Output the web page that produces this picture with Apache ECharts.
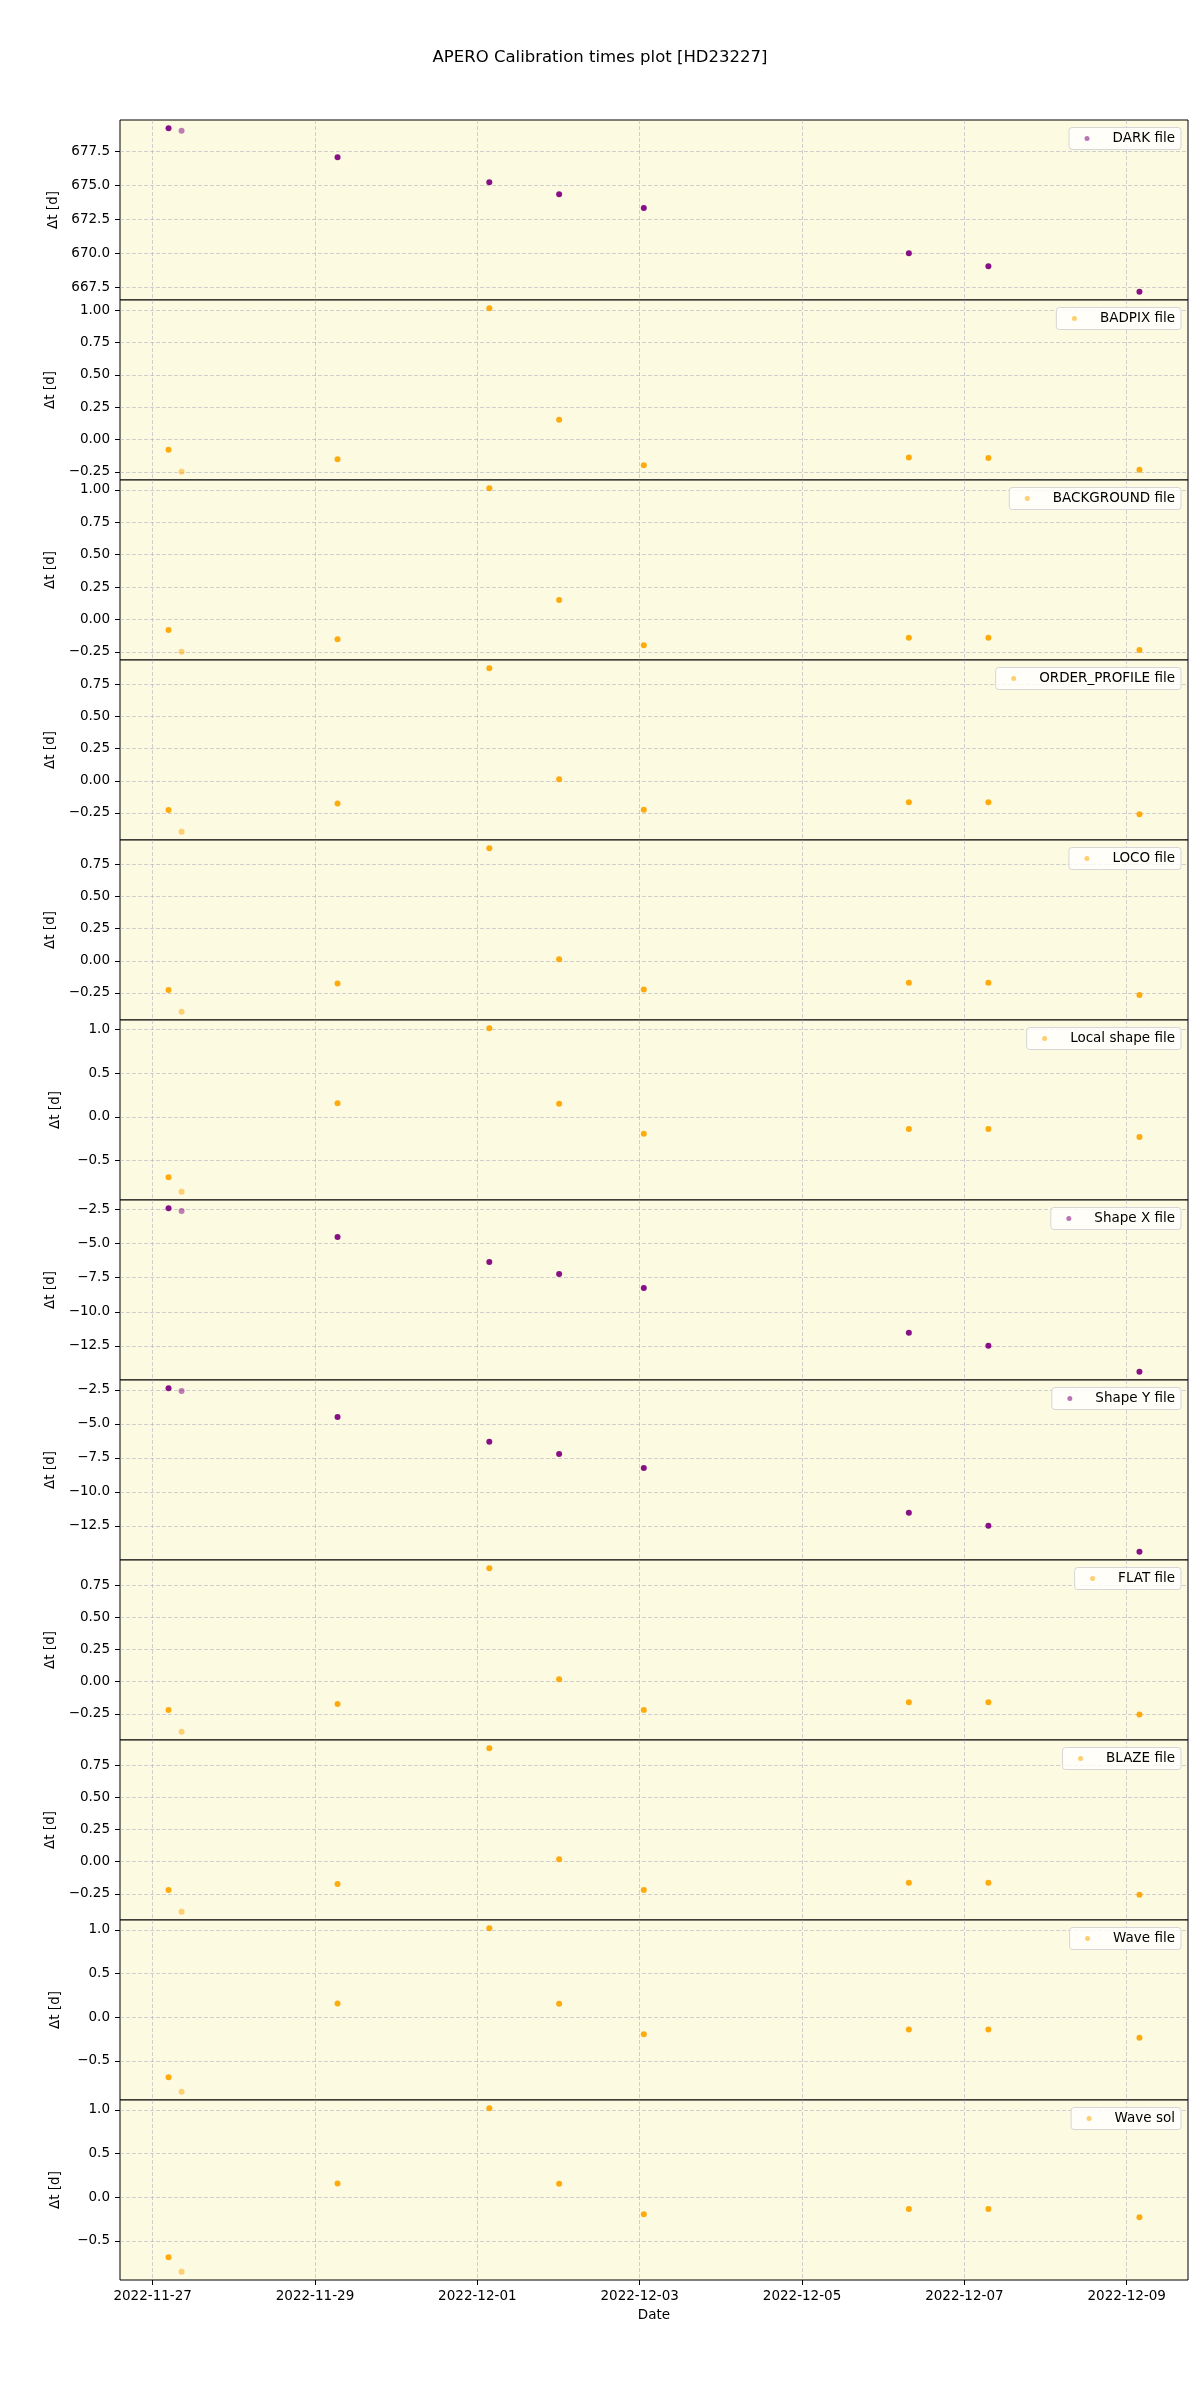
<!DOCTYPE html>
<html>
<head>
<meta charset="utf-8">
<title>APERO Calibration times plot [HD23227]</title>
<script src="https://cdn.jsdelivr.net/npm/echarts@6/dist/echarts.min.js"></script>
<style>
  html, body { margin: 0; padding: 0; background: #fff; }
  #chart { width: 1200px; height: 2400px; }
</style>
</head>
<body>
<div id="chart"></div>
<script>
const obsTimes = [
  '2022-11-27T04:42Z', '2022-11-27T08:33Z', '2022-11-29T06:40Z',
  '2022-12-01T03:32Z', '2022-12-02T00:11Z', '2022-12-03T01:13Z',
  '2022-12-06T07:35Z', '2022-12-07T07:06Z', '2022-12-09T03:46Z'
]
// overlapping observations per point (single ones show lighter)
const nObs = [4, 1, 4, 4, 4, 4, 4, 4, 4]

const dateTicks = ['2022-11-27', '2022-11-29', '2022-12-01', '2022-12-03', '2022-12-05', '2022-12-07', '2022-12-09']

// delta t [d] per calibration file
const darkFile = [679.19, 679.00, 677.06, 675.22, 674.34, 673.32, 670.00, 669.04, 667.16]
const badpixFile = [-0.080, -0.250, -0.153, 1.016, 0.152, -0.200, -0.140, -0.143, -0.234]
const backgroundFile = [-0.081, -0.250, -0.153, 1.014, 0.151, -0.200, -0.141, -0.142, -0.236]
const orderProfileFile = [-0.228, -0.398, -0.178, 0.878, 0.011, -0.226, -0.167, -0.167, -0.261]
const locoFile = [-0.228, -0.398, -0.178, 0.878, 0.011, -0.223, -0.171, -0.171, -0.267]
const localShapeFile = [-0.691, -0.858, 0.156, 1.017, 0.151, -0.192, -0.139, -0.139, -0.231]
const shapeXFile = [-2.40, -2.60, -4.51, -6.34, -7.23, -8.26, -11.53, -12.49, -14.40]
const shapeYFile = [-2.37, -2.58, -4.49, -6.32, -7.21, -8.24, -11.54, -12.49, -14.41]
const flatFile = [-0.220, -0.390, -0.173, 0.884, 0.020, -0.220, -0.159, -0.159, -0.255]
const blazeFile = [-0.220, -0.390, -0.173, 0.884, 0.020, -0.220, -0.163, -0.163, -0.258]
const waveFile = [-0.688, -0.855, 0.156, 1.018, 0.152, -0.195, -0.142, -0.142, -0.235]
const waveSol = [-0.688, -0.855, 0.156, 1.018, 0.152, -0.195, -0.137, -0.137, -0.229]

// y tick labels
const darkTicks = [667.5, 670.0, 672.5, 675.0, 677.5]
const quarterTicks6 = [-0.25, 0.00, 0.25, 0.50, 0.75, 1.00]
const quarterTicks5 = [-0.25, 0.00, 0.25, 0.50, 0.75]
const halfTicks = [-0.5, 0.0, 0.5, 1.0]
const shapeTicks = [-12.5, -10.0, -7.5, -5.0, -2.5]

const FONT = 'DejaVu Sans'
const PURPLE = '#800080'
const ORANGE = '#ffa500'
const BG = '#fcfae1'
const GRID_COLOR = 'rgba(170,172,190,0.55)'

const panels = [
  { name: 'DARK file', values: darkFile, ticks: darkTicks, dec: 1, color: PURPLE },
  { name: 'BADPIX file', values: badpixFile, ticks: quarterTicks6, dec: 2, color: ORANGE },
  { name: 'BACKGROUND file', values: backgroundFile, ticks: quarterTicks6, dec: 2, color: ORANGE },
  { name: 'ORDER_PROFILE file', values: orderProfileFile, ticks: quarterTicks5, dec: 2, color: ORANGE },
  { name: 'LOCO file', values: locoFile, ticks: quarterTicks5, dec: 2, color: ORANGE },
  { name: 'Local shape file', values: localShapeFile, ticks: halfTicks, dec: 1, color: ORANGE },
  { name: 'Shape X file', values: shapeXFile, ticks: shapeTicks, dec: 1, color: PURPLE },
  { name: 'Shape Y file', values: shapeYFile, ticks: shapeTicks, dec: 1, color: PURPLE },
  { name: 'FLAT file', values: flatFile, ticks: quarterTicks5, dec: 2, color: ORANGE },
  { name: 'BLAZE file', values: blazeFile, ticks: quarterTicks5, dec: 2, color: ORANGE },
  { name: 'Wave file', values: waveFile, ticks: halfTicks, dec: 1, color: ORANGE },
  { name: 'Wave sol', values: waveSol, ticks: halfTicks, dec: 1, color: ORANGE }
]

const TOP = 120
const PANEL_H = 180

const tMs = obsTimes.map(s => Date.parse(s))
const tMin = Math.min(...tMs)
const tMax = Math.max(...tMs)
const xPad = (tMax - tMin) * 0.05
const tickMs = dateTicks.map(s => Date.parse(s + 'T00:00:00Z'))

function fmtNum(v, dec) {
  const s = Math.abs(v).toFixed(dec)
  return (v < -1e-9 ? '\u2212' : '') + s
}

const labelStyle = { color: '#000', fontFamily: FONT, fontSize: 13.5 }
const splitLine = { show: true, lineStyle: { color: GRID_COLOR, type: [4, 2], width: 1 } }

const option = {
  animation: false,
  textStyle: { fontFamily: FONT },
  title: {
    text: 'APERO Calibration times plot [HD23227]',
    left: 'center',
    top: 44,
    textStyle: { fontFamily: FONT, fontSize: 16.5, fontWeight: 'normal', color: '#000' }
  },
  grid: panels.map((p, i) => ({
    left: 120,
    right: 12,
    top: TOP + i * PANEL_H,
    height: PANEL_H,
    show: true,
    backgroundColor: BG,
    borderColor: '#000',
    borderWidth: 1
  })),
  xAxis: panels.map((p, i) => {
    const last = i === panels.length - 1
    return {
      type: 'value',
      gridIndex: i,
      min: tMin - xPad,
      max: tMax + xPad,
      axisLine: { show: false, onZero: false },
      axisTick: { show: last, customValues: tickMs, length: 5, lineStyle: { color: '#000' } },
      axisLabel: {
        show: last,
        customValues: tickMs,
        margin: 9,
        formatter: v => new Date(v).toISOString().slice(0, 10),
        ...labelStyle
      },
      splitLine,
      name: last ? 'Date' : '',
      nameLocation: 'middle',
      nameGap: 28,
      nameTextStyle: labelStyle
    }
  }),
  yAxis: panels.map((p, i) => {
    const lo = Math.min(...p.values)
    const hi = Math.max(...p.values)
    const pad = (hi - lo) * 0.05
    return {
      type: 'value',
      gridIndex: i,
      min: lo - pad,
      max: hi + pad,
      axisLine: { show: false, onZero: false },
      axisTick: { show: true, customValues: p.ticks, length: 5, lineStyle: { color: '#000' } },
      axisLabel: {
        customValues: p.ticks,
        margin: 10,
        formatter: v => fmtNum(v, p.dec),
        ...labelStyle
      },
      splitLine,
      name: '\u0394t [d]',
      nameLocation: 'middle',
      nameGap: 58,
      nameTextStyle: labelStyle
    }
  }),
  legend: panels.map((p, i) => ({
    data: [p.name],
    right: 19,
    top: TOP + i * PANEL_H + 7.5,
    orient: 'vertical',
    selectedMode: false,
    backgroundColor: 'rgba(255,255,255,0.8)',
    borderColor: '#d6d6d6',
    borderWidth: 1,
    borderRadius: 3,
    padding: [4, 6, 4, 15.5],
    itemWidth: 5,
    itemHeight: 5,
    icon: 'circle',
    itemStyle: { opacity: 0.55 },
    formatter: name => '{gap|}' + name,
    textStyle: { ...labelStyle, rich: { gap: { width: 18 } } }
  })),
  series: panels.map((p, i) => ({
    type: 'scatter',
    name: p.name,
    xAxisIndex: i,
    yAxisIndex: i,
    symbolSize: 6,
    silent: true,
    itemStyle: { color: p.color, opacity: 0.5 },
    data: p.values.map((v, k) => ({
      value: [tMs[k], v],
      itemStyle: { opacity: 1 - Math.pow(0.5, nObs[k]) }
    }))
  }))
}

const chart = echarts.init(document.getElementById('chart'))
chart.setOption(option)
window.addEventListener('resize', () => chart.resize())
</script>
</body>
</html>
